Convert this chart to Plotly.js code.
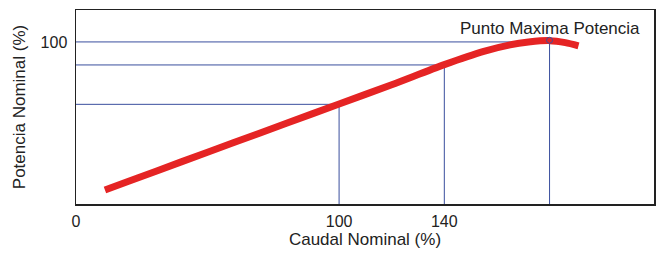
<!DOCTYPE html>
<html>
<head>
<meta charset="utf-8">
<script src="https://cdn.plot.ly/plotly-3.0.1.min.js"></script>
<style>html,body{margin:0;padding:0;background:#fff;}#chart{width:658px;height:253px;}</style>
</head>
<body>
<div id="chart"></div>
<script>
// Curve: Caudal Nominal (%) vs Potencia Nominal (%)
const caudal   = [11, 20, 40, 60, 80, 100, 120, 140, 155, 165, 172, 180, 186, 191];
const potencia = [8.6, 14, 26, 37.9, 49.8, 61.7, 73.6, 86, 94.2, 98.2, 99.9, 100.8, 99.6, 97.6];

// Guide points (x, y) with lines down to axes
const guideX = [100, 140, 180];
const guideY = [61.5, 85.8, 100];

const maxX = [180];
const maxY = [101];
const maxLabel = 'Punto Maxima Potencia';

const xTicks = [0, 100, 140];
const xTickText = ['0', '100', '140'];
const yTicks = [100];
const yTickText = ['100'];

const blue = '#3a4f9e';
const traces = [];
guideX.forEach((gx, i) => {
  traces.push({
    x: [0, gx, gx], y: [guideY[i], guideY[i], 0],
    mode: 'lines', line: {color: blue, width: 1}, hoverinfo: 'skip', showlegend: false
  });
});
traces.push({
  x: caudal, y: potencia, mode: 'lines',
  line: {color: '#e52424', width: 7, shape: 'spline', smoothing: 0.8},
  showlegend: false
});
traces.push({
  x: maxX, y: maxY, mode: 'markers',
  marker: {symbol: 'circle-open', size: 6, color: blue, line: {width: 1, color: blue}},
  showlegend: false
});

const layout = {
  width: 658, height: 253,
  margin: {l: 76, r: 4, t: 10, b: 49},
  paper_bgcolor: '#fff', plot_bgcolor: '#fff',
  font: {family: 'Liberation Sans, Arial, sans-serif', size: 16, color: '#222'},
  xaxis: {
    range: [0, 219.7], tickvals: xTicks, ticktext: xTickText,
    showgrid: false, zeroline: false, showline: true, mirror: true,
    linecolor: '#222', linewidth: 1.5,
    ticks: 'outside', ticklen: 2, tickcolor: 'rgba(0,0,0,0)',
    tickfont: {size: 16},
    title: {text: 'Caudal Nominal (%)', standoff: 4, font: {size: 17}}
  },
  yaxis: {
    range: [0, 119.7], tickvals: yTicks, ticktext: yTickText,
    showgrid: false, zeroline: false, showline: true, mirror: true,
    linecolor: '#222', linewidth: 1.5,
    ticks: 'outside', ticklen: 4, tickcolor: 'rgba(0,0,0,0)',
    tickfont: {size: 16},
    title: {text: 'Potencia Nominal (%)', standoff: 10, font: {size: 17}}
  },
  annotations: [{
    x: maxX[0], y: 108, xref: 'x', yref: 'y', text: maxLabel,
    showarrow: false, xanchor: 'center', yanchor: 'middle',
    font: {size: 17, color: '#222'}
  }]
};
Plotly.newPlot('chart', traces, layout, {staticPlot: true, displayModeBar: false});
</script>
</body>
</html>
